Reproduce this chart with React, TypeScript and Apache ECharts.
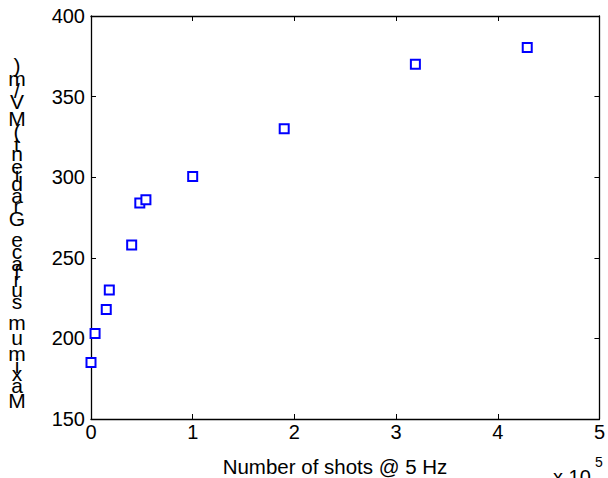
import React, { useEffect, useRef } from "react";
import * as echarts from "echarts";

// Number of shots (in units of 10^5) and maximum surface gradient (MV/m)
const shots = [0, 0.04, 0.15, 0.18, 0.4, 0.48, 0.54, 1.0, 1.9, 3.19, 4.29];
const gradient = [185, 203, 218, 230, 258, 284, 286, 300.5, 330, 370, 380.5];
const xTicks = [0, 1, 2, 3, 4, 5];
const yTicks = [150, 200, 250, 300, 350, 400];
const xLabel = "Number of shots @ 5 Hz";
const yLabel = "Maximum surface Gradient (MV/m)";
const scaleBase = "x 10";
const scaleExp = "5";

const FONT = "'Liberation Sans', Arial, Helvetica, sans-serif";

// Arial advance widths (per em) for stacking the y-label characters
const W: Record<string, number> = {
  M: 0.833, a: 0.556, x: 0.5, i: 0.222, m: 0.833, u: 0.556, " ": 0.278,
  s: 0.5, r: 0.333, f: 0.278, c: 0.5, e: 0.556, G: 0.778, d: 0.556,
  n: 0.556, t: 0.278, "(": 0.333, ")": 0.333, V: 0.667, "/": 0.278,
};

export default function App() {
  const ref = useRef<HTMLDivElement>(null);
  useEffect(() => {
    if (!ref.current) return;
    const chart = echarts.init(ref.current, undefined, { renderer: "svg" });

    const pxPerEm = 22.4;
    let cum = 0;
    const labelChars: any[] = [];
    for (const ch of yLabel) {
      const w = W[ch] ?? 0.556;
      if (ch !== " ") {
        labelChars.push({
          type: "text",
          x: 17,
          y: 410 - (cum + w / 2) * pxPerEm,
          style: {
            text: ch,
            font: `21px ${FONT}`,
            fill: "#000",
            textAlign: "center",
            textVerticalAlign: "middle",
          },
        });
      }
      cum += w;
    }

    const axisCommon = {
      type: "value" as const,
      axisLine: { show: true, onZero: false, lineStyle: { color: "#000", width: 1.3 } },
      axisTick: { show: true, inside: true, length: 5, lineStyle: { color: "#000", width: 1 } },
      splitLine: { show: false },
    };

    chart.setOption({
      animation: false,
      backgroundColor: "#fff",
      grid: { left: 91, top: 16, width: 511, height: 403, containLabel: false },
      xAxis: [
        {
          ...axisCommon,
          position: "bottom",
          min: xTicks[0],
          max: xTicks[xTicks.length - 1],
          interval: 1,
          axisLabel: { color: "#000", fontFamily: FONT, fontSize: 20, margin: 3 },
        },
        {
          ...axisCommon,
          position: "top",
          min: xTicks[0],
          max: xTicks[xTicks.length - 1],
          interval: 1,
          axisLabel: { show: false },
        },
      ],
      yAxis: [
        {
          ...axisCommon,
          position: "left",
          min: yTicks[0],
          max: yTicks[yTicks.length - 1],
          interval: 50,
          axisLabel: { color: "#000", fontFamily: FONT, fontSize: 20, margin: 6 },
        },
        {
          ...axisCommon,
          position: "right",
          min: yTicks[0],
          max: yTicks[yTicks.length - 1],
          interval: 50,
          axisLabel: { show: false },
        },
      ],
      series: [
        {
          type: "scatter",
          xAxisIndex: 0,
          yAxisIndex: 0,
          data: shots.map((s, i) => [s, gradient[i]]),
          symbol: "rect",
          symbolSize: 9,
          itemStyle: { color: "#fff", borderColor: "#0000ff", borderWidth: 2, opacity: 1 },
        },
      ],
      graphic: [
        ...labelChars,
        {
          type: "text",
          x: 335,
          y: 466,
          style: {
            text: xLabel,
            font: `20.5px ${FONT}`,
            fill: "#000",
            textAlign: "center",
            textVerticalAlign: "middle",
          },
        },
        {
          type: "text",
          x: 553,
          y: 467,
          style: {
            text: scaleBase,
            font: `20px ${FONT}`,
            fill: "#000",
            textAlign: "left",
            textVerticalAlign: "top",
          },
        },
        {
          type: "text",
          x: 595,
          y: 455,
          style: {
            text: scaleExp,
            font: `14px ${FONT}`,
            fill: "#000",
            textAlign: "left",
            textVerticalAlign: "top",
          },
        },
      ],
    });
    return () => chart.dispose();
  }, []);
  return (
    <div
      ref={ref}
      style={{ position: "fixed", left: 0, top: 0, width: 608, height: 478 }}
    />
  );
}
